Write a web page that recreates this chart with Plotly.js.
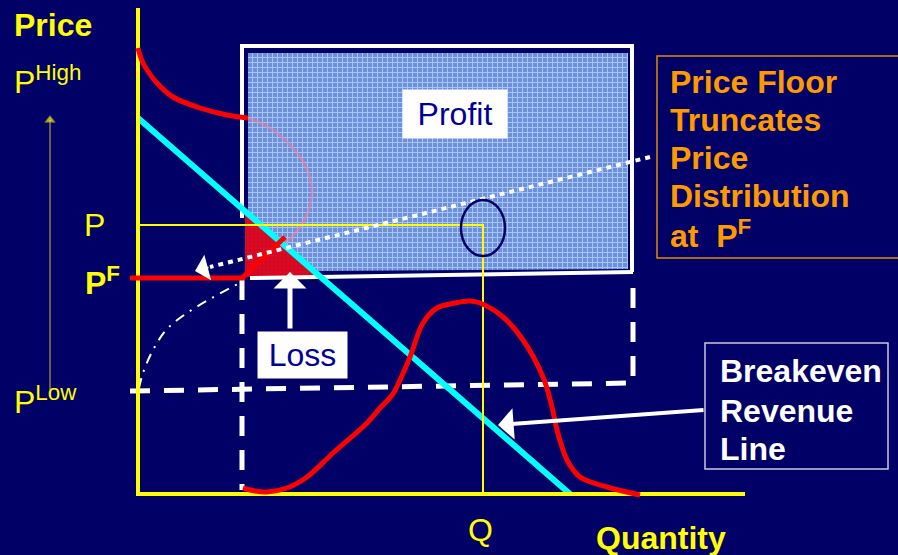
<!DOCTYPE html>
<html><head><meta charset="utf-8">
<script src="https://cdn.plot.ly/plotly-3.0.1.min.js"></script>
<style>html,body{margin:0;padding:0;background:#000066;}#chart{width:898px;height:555px;}</style>
</head><body><div id="chart"></div><script>
// Diagram coordinates: q = quantity units, p = price units (origin at axes corner)
const axisQ = [0, 0, 607];
const axisP = [486, 0, 0];
const revenueQ = [0, 432];
const revenueP = [376, 0];
const upperTailQ = [0, 5, 19, 35, 62, 89, 110];
const upperTailP = [446, 431, 411, 397, 386, 379, 376];
const hiddenTailQ = [110, 132, 152, 167, 174, 170, 160, 147];
const hiddenTailP = [376, 366, 349, 329, 304, 282, 264, 251];
const truncQ = [104, 147];
const truncP = [216, 257];
const floorQ = [-8, 107];
const floorP = [216, 216];
const lossQ = [107, 107, 182, 107];
const lossP = [283, 217, 218, 283];
const profitQ = [110, 490, 490, 180, 110, 110];
const profitP = [441, 441, 225, 223, 281, 441];
const boxQ = [102, 496, null, 104, 104, null, 494, 494, null, 112, 495];
const boxP = [448, 448, null, 448, 276, null, 448, 222, null, 216, 222];
const dashQ = [104, 104, null, -8, 495, null, 495, 495];
const dashP = [214, 4, null, 103, 111, null, 206, 111];
const lowPathQ = [1, 5, 15, 29, 49, 72, 94, 104];
const lowPathP = [106, 121, 144, 165, 181, 195, 207, 212];
const pLineQ = [0, 345, 345];
const pLineP = [269, 269, 0];
const bellQ = [105, 117, 129, 149, 169, 195, 229, 242, 255, 262, 272, 285, 299, 317, 332, 342, 365, 385, 405, 414, 419, 429, 442, 469, 502];
const bellP = [6, 3, 2, 6, 17, 41, 71, 86, 100, 114, 137, 171, 186, 191, 193, 191, 177, 154, 117, 87, 64, 34, 17, 7, -1];
const dottedQ = [512, 72];
const dottedP = [337, 227];
const priceArrowQ = [-88, -88];
const priceArrowP = [104, 374];

const NAVY = '#000066';
const traces = [
  {x: profitQ, y: profitP, mode: 'none', fill: 'toself', fillcolor: '#6E90DA',
   fillpattern: {shape: '+', bgcolor: '#6E90DA', fgcolor: '#A6C6F8', size: 5, solidity: 0.35}},
  {x: lossQ, y: lossP, mode: 'none', fill: 'toself', fillcolor: '#E0001A',
   fillpattern: {shape: '+', bgcolor: '#E8061E', fgcolor: '#B01030', size: 4, solidity: 0.3}},
  {x: hiddenTailQ, y: hiddenTailP, mode: 'lines', line: {color: 'rgba(255,120,150,0.5)', width: 3, shape: 'spline'}},
  {x: boxQ, y: boxP, mode: 'lines', line: {color: '#FFFFFF', width: 4}},
  {x: dashQ, y: dashP, mode: 'lines', line: {color: '#FFFFFF', width: 5, dash: '20px,14px'}},
  {x: lowPathQ, y: lowPathP, mode: 'lines', line: {color: '#FFFFFF', width: 2, dash: '10px,7px,2px,7px', shape: 'spline'}},
  {x: revenueQ, y: revenueP, mode: 'lines', line: {color: '#00FFFF', width: 6}},
  {x: pLineQ, y: pLineP, mode: 'lines', line: {color: '#FFFF00', width: 2}},
  {x: axisQ, y: axisP, mode: 'lines', line: {color: '#FFFF00', width: 4}},
  {x: upperTailQ, y: upperTailP, mode: 'lines', line: {color: '#FF0000', width: 5, shape: 'spline'}},
  {x: truncQ, y: truncP, mode: 'lines', line: {color: '#FF0000', width: 5}},
  {x: floorQ, y: floorP, mode: 'lines', line: {color: '#FF0000', width: 5}},
  {x: bellQ, y: bellP, mode: 'lines', line: {color: '#FF0000', width: 5, shape: 'spline', smoothing: 1}},
  {x: dottedQ, y: dottedP, mode: 'lines', line: {color: '#FFFFFF', width: 4, dash: '5px,5px'}},
  {x: priceArrowQ, y: priceArrowP, mode: 'lines+markers', line: {color: '#8A8040', width: 1.5},
   marker: {symbol: 'triangle-up', size: [0, 9], color: '#FFFF00'}}
];

const F = 'Arial, "Liberation Sans", sans-serif';
function txt(text, q, p, opts) {
  return Object.assign({x: q, y: p, xref: 'x', yref: 'y', text: text, showarrow: false,
    xanchor: 'left', yanchor: 'middle', font: {family: F, size: 32, color: '#FFFF00'}}, opts || {});
}
const annotations = [
  txt('<b>Likelihood of a Loss</b>', 300, 481.5, {xanchor: 'center', yanchor: 'bottom', font: {family: F, size: 52, color: '#FFFFFF'}}),
  txt('<b>Price</b>', -126, 469),
  txt('P<sup>High</sup>', -126, 414),
  txt('P<sup>Low</sup>', -126, 94),
  txt('P', -44, 269, {xanchor: 'center'}),
  txt('<b>P<sup>F</sup></b>', -55, 213),
  txt('Q', 342, -36, {xanchor: 'center'}),
  txt('<b>Quantity</b>', 523, -44, {xanchor: 'center'}),
  txt('Profit', 317, 380, {xanchor: 'center', bgcolor: '#FFFFFF', width: 100, height: 44, borderpad: 2, font: {family: F, size: 32, color: '#000099'}}),
  txt('Loss', 164.5, 139, {xanchor: 'center', bgcolor: '#FFFFFF', width: 85, height: 42, borderpad: 2, font: {family: F, size: 32, color: '#000099'}}),
  txt('<b>Price Floor</b>', 530, 412, {font: {family: F, size: 32, color: '#FF9900'}}),
  txt('<b>Truncates</b>', 530, 374, {font: {family: F, size: 32, color: '#FF9900'}}),
  txt('<b>Price</b>', 530, 336, {font: {family: F, size: 32, color: '#FF9900'}}),
  txt('<b>Distribution</b>', 530, 298, {font: {family: F, size: 32, color: '#FF9900'}}),
  txt('<b>at  P<sup>F</sup></b>', 530, 260, {font: {family: F, size: 32, color: '#FF9900'}}),
  txt('<b>Breakeven</b>', 580, 123, {font: {family: F, size: 32, color: '#FFFFFF'}}),
  txt('<b>Revenue</b>', 580, 83, {font: {family: F, size: 32, color: '#FFFFFF'}}),
  txt('<b>Line</b>', 580, 45, {font: {family: F, size: 32, color: '#FFFFFF'}}),
  // arrows
  {x: 152, y: 222, ax: 152, ay: 164, xref: 'x', yref: 'y', axref: 'x', ayref: 'y', text: '', showarrow: true,
   arrowhead: 1, arrowwidth: 5, arrowsize: 1.1, arrowcolor: '#FFFFFF'},
  {x: 360, y: 69, ax: 567, ay: 84, xref: 'x', yref: 'y', axref: 'x', ayref: 'y', text: '', showarrow: true,
   arrowhead: 1, arrowwidth: 4, arrowsize: 1.3, arrowcolor: '#FFFFFF'},
  {x: 57, y: 223, ax: 72, ay: 227, xref: 'x', yref: 'y', axref: 'x', ayref: 'y', text: '', showarrow: true,
   arrowhead: 1, arrowwidth: 2, arrowsize: 2.2, arrowcolor: '#FFFFFF'}
];

const shapes = [
  {type: 'rect', xref: 'x', yref: 'y', x0: 519, x1: 767, y0: 236, y1: 438, line: {color: '#E08A00', width: 1.5}},
  {type: 'rect', xref: 'x', yref: 'y', x0: 567, x1: 750, y0: 25, y1: 151, line: {color: '#C8C8E0', width: 1.5}},
  {type: 'circle', xref: 'x', yref: 'y', x0: 323, x1: 367, y0: 238, y1: 294, line: {color: NAVY, width: 2.5}}
];

const layout = {
  width: 898, height: 555,
  margin: {l: 0, r: 0, t: 0, b: 0},
  paper_bgcolor: NAVY, plot_bgcolor: NAVY,
  showlegend: false,
  xaxis: {range: [-138, 760], visible: false, fixedrange: true},
  yaxis: {range: [-61, 494], visible: false, fixedrange: true},
  annotations: annotations,
  shapes: shapes
};
traces.forEach(t => { t.hoverinfo = 'skip'; t.cliponaxis = false; });
Plotly.newPlot('chart', traces, layout, {staticPlot: true, displayModeBar: false});
</script></body></html>
